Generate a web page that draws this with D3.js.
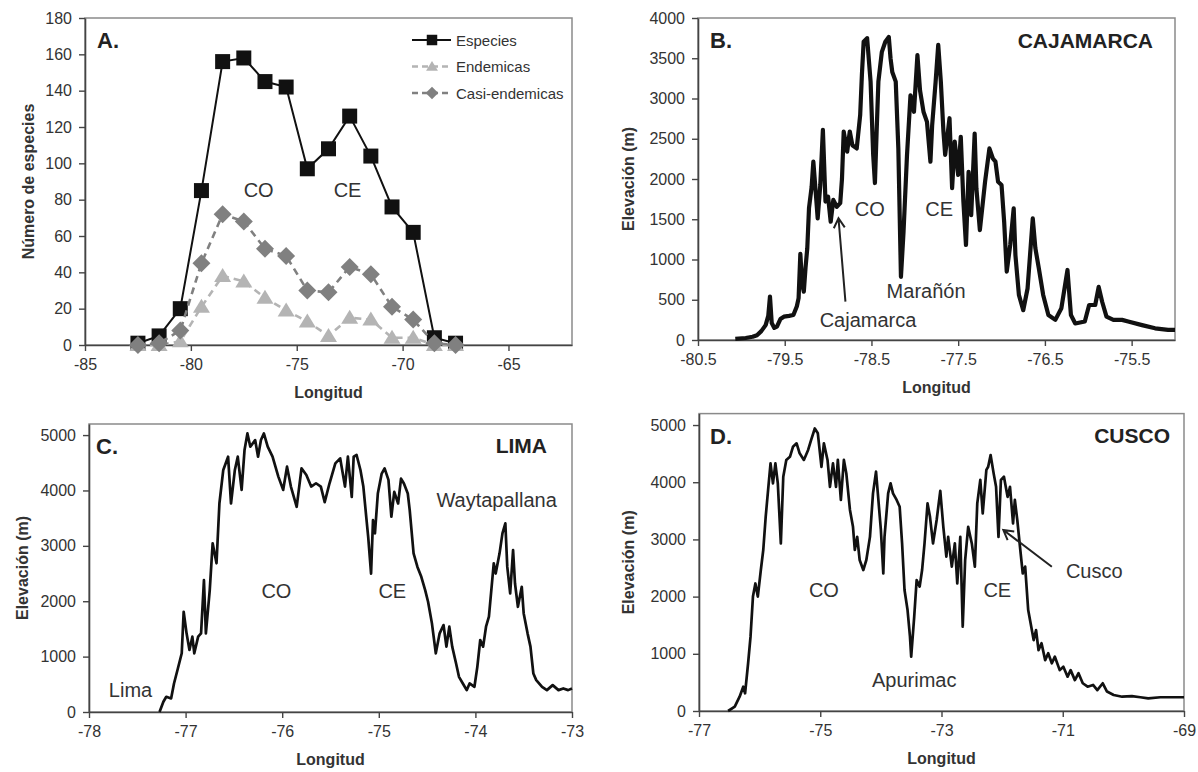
<!DOCTYPE html>
<meta charset="utf-8">
<script src="https://d3js.org/d3.v7.min.js"></script>
<style>
  body { margin: 0; background: #fff; }
  text { font-family: "Liberation Sans", Arial, sans-serif; }
</style>
<div id="page"></div>
<script>

  // ---- Panel A: species counts per 1-degree longitude band ----
  var lonA = [-82.5, -81.5, -80.5, -79.5, -78.5, -77.5, -76.5, -75.5, -74.5, -73.5, -72.5, -71.5, -70.5, -69.5, -68.5, -67.5];
  var especies = [1, 5, 20, 85, 156, 158, 145, 142, 97, 108, 126, 104, 76, 62, 4, 1];
  var endemicas = [0, 0, 2, 21, 38, 35, 26, 19, 13, 5, 15, 14, 4, 4, 0, 0];
  var casiEndemicas = [0, 1, 8, 45, 72, 68, 53, 49, 30, 29, 43, 39, 21, 14, 1, 0];
  var seriesNames = ["Especies", "Endemicas", "Casi-endemicas"];

  // ---- Panel B: Cajamarca elevation profile ----
  var cajLon = [-80.07, -79.95, -79.87, -79.82, -79.77, -79.72, -79.69, -79.67, -79.65, -79.62, -79.59, -79.55, -79.51, -79.45, -79.40, -79.36, -79.34, -79.32, -79.30, -79.28, -79.26, -79.24, -79.22, -79.19, -79.17, -79.14, -79.12, -79.09, -79.06, -79.03, -79.00, -78.97, -78.94, -78.90, -78.86, -78.84, -78.82, -78.78, -78.75, -78.72, -78.67, -78.63, -78.61, -78.59, -78.55, -78.51, -78.48, -78.46, -78.44, -78.42, -78.38, -78.34, -78.30, -78.28, -78.26, -78.22, -78.19, -78.16, -78.13, -78.09, -78.05, -78.01, -77.97, -77.94, -77.90, -77.86, -77.82, -77.80, -77.76, -77.73, -77.70, -77.67, -77.65, -77.60, -77.57, -77.54, -77.50, -77.47, -77.44, -77.41, -77.38, -77.35, -77.31, -77.29, -77.25, -77.19, -77.14, -77.10, -77.07, -77.04, -77.00, -76.97, -76.94, -76.90, -76.86, -76.84, -76.80, -76.75, -76.70, -76.64, -76.61, -76.57, -76.52, -76.46, -76.38, -76.31, -76.24, -76.20, -76.15, -76.04, -75.99, -75.92, -75.88, -75.84, -75.79, -75.71, -75.61, -75.54, -75.38, -75.23, -75.08, -75.00];
  var cajElev = [15, 25, 40, 60, 110, 185, 300, 540, 210, 150, 165, 260, 290, 300, 310, 420, 520, 1070, 700, 600, 900, 1140, 1640, 1900, 2215, 1800, 1510, 1925, 2610, 1720, 1780, 1470, 1740, 1655, 1700, 2000, 2590, 2340, 2590, 2420, 2380, 2795, 3300, 3705, 3750, 3210, 2300, 1950, 2600, 3210, 3580, 3705, 3765, 3500, 3330, 3210, 2380, 785, 1345, 2300, 3040, 2835, 3540, 3100, 2835, 2710, 2215, 2670, 3210, 3665, 3210, 2590, 2300, 2755, 1885, 2465, 2050, 2525, 1720, 1180, 2090, 1550, 2565, 1885, 1365, 1965, 2380, 2255, 2215, 1965, 1925, 1470, 850, 1180, 1635, 1055, 560, 370, 640, 1510, 1140, 890, 560, 310, 250, 395, 870, 310, 205, 230, 435, 435, 660, 475, 290, 250, 250, 230, 185, 145, 125, 125];

  // ---- Panel C: Lima elevation profile ----
  var limaLon = [-77.27, -77.23, -77.20, -77.15, -77.12, -77.08, -77.04, -77.02, -76.99, -76.96, -76.93, -76.91, -76.87, -76.84, -76.81, -76.79, -76.75, -76.72, -76.68, -76.65, -76.61, -76.56, -76.53, -76.49, -76.46, -76.42, -76.39, -76.36, -76.33, -76.28, -76.25, -76.22, -76.19, -76.15, -76.10, -76.04, -75.99, -75.95, -75.91, -75.85, -75.80, -75.75, -75.70, -75.65, -75.60, -75.56, -75.51, -75.45, -75.40, -75.35, -75.32, -75.28, -75.26, -75.23, -75.19, -75.16, -75.13, -75.11, -75.08, -75.06, -75.04, -75.01, -74.97, -74.94, -74.90, -74.87, -74.84, -74.80, -74.77, -74.74, -74.70, -74.68, -74.64, -74.60, -74.56, -74.52, -74.49, -74.45, -74.41, -74.37, -74.33, -74.30, -74.27, -74.24, -74.20, -74.17, -74.13, -74.09, -74.06, -74.01, -73.98, -73.95, -73.92, -73.89, -73.86, -73.81, -73.79, -73.75, -73.72, -73.69, -73.67, -73.64, -73.61, -73.59, -73.56, -73.52, -73.50, -73.46, -73.43, -73.40, -73.37, -73.31, -73.26, -73.20, -73.14, -73.09, -73.04, -73.00];
  var limaElev = [0, 185, 275, 245, 515, 785, 1060, 1810, 1420, 1120, 1360, 1060, 1360, 1420, 2380, 1420, 2200, 3045, 2685, 3765, 4370, 4610, 3765, 4370, 4610, 4010, 4730, 5030, 4790, 4910, 4610, 4910, 5030, 4790, 4610, 4250, 4010, 4430, 4070, 3705, 4400, 4280, 4070, 4130, 4070, 3790, 4130, 4490, 4580, 4070, 4610, 3885, 4610, 4640, 4370, 4070, 3525, 3165, 2500, 3465, 3225, 3945, 4305, 4400, 4190, 3525, 3975, 3765, 4215, 4125, 3945, 3645, 2865, 2620, 2440, 2200, 1990, 1600, 1060, 1420, 1570, 1180, 1540, 1180, 875, 635, 515, 395, 515, 455, 815, 1300, 1180, 1540, 1720, 2685, 2500, 2865, 3225, 3405, 2620, 2140, 2925, 2320, 1900, 2260, 1780, 1420, 1180, 695, 575, 455, 395, 485, 395, 425, 395, 425];

  // ---- Panel D: Cusco elevation profile ----
  var cuscoLon = [-76.52, -76.41, -76.33, -76.27, -76.24, -76.19, -76.15, -76.11, -76.07, -76.03, -75.98, -75.94, -75.90, -75.86, -75.82, -75.78, -75.74, -75.70, -75.65, -75.61, -75.56, -75.50, -75.45, -75.39, -75.34, -75.27, -75.20, -75.15, -75.09, -75.04, -74.98, -74.94, -74.88, -74.84, -74.79, -74.74, -74.71, -74.66, -74.61, -74.57, -74.51, -74.46, -74.43, -74.39, -74.35, -74.29, -74.24, -74.18, -74.13, -74.08, -74.05, -74.00, -73.96, -73.94, -73.88, -73.84, -73.80, -73.74, -73.69, -73.65, -73.61, -73.56, -73.52, -73.50, -73.45, -73.41, -73.36, -73.32, -73.28, -73.23, -73.19, -73.14, -73.08, -73.02, -72.97, -72.92, -72.89, -72.83, -72.78, -72.74, -72.69, -72.65, -72.61, -72.56, -72.50, -72.45, -72.41, -72.36, -72.32, -72.26, -72.23, -72.19, -72.14, -72.10, -72.06, -72.02, -71.97, -71.91, -71.87, -71.82, -71.79, -71.75, -71.70, -71.66, -71.62, -71.57, -71.53, -71.48, -71.44, -71.40, -71.35, -71.29, -71.24, -71.18, -71.13, -71.05, -70.99, -70.92, -70.87, -70.80, -70.74, -70.67, -70.59, -70.50, -70.43, -70.34, -70.27, -70.16, -70.02, -69.86, -69.72, -69.59, -69.39, -69.17, -69.00];
  var cuscoElev = [0, 75, 250, 425, 310, 835, 1300, 2000, 2230, 2000, 2465, 2815, 3395, 3865, 4330, 3980, 4330, 3980, 2930, 4095, 4390, 4445, 4620, 4680, 4505, 4390, 4565, 4740, 4940, 4855, 4270, 4680, 4390, 3920, 4330, 3920, 4390, 3690, 4390, 4155, 3515, 3220, 2815, 3045, 2640, 2465, 2640, 3045, 3805, 4185, 3805, 3165, 2405, 3045, 3805, 3980, 3805, 3690, 3570, 2930, 2115, 1765, 1300, 950, 1650, 2290, 2175, 2465, 2930, 3630, 3395, 2930, 3340, 3850, 3220, 2700, 3045, 2525, 2930, 2230, 3045, 1475, 2640, 3220, 2930, 2525, 3630, 4040, 3455, 4215, 4270, 4475, 4155, 3920, 3045, 4040, 4095, 3745, 3920, 3280, 3690, 3340, 2815, 2405, 2525, 1765, 1535, 1240, 1415, 1065, 1185, 890, 1010, 835, 950, 715, 775, 600, 715, 540, 660, 485, 425, 455, 365, 485, 340, 280, 250, 260, 240, 220, 240, 240, 240];

  // Axis ticks
  var ticksAx = [-85, -80, -75, -70, -65], ticksAy = d3.range(0, 181, 20);
  var ticksBx = [-80.5, -79.5, -78.5, -77.5, -76.5, -75.5], ticksBy = d3.range(0, 4001, 500);
  var ticksCx = [-78, -77, -76, -75, -74, -73], ticksCy = d3.range(0, 5001, 1000);
  var ticksDx = [-77, -75, -73, -71, -69], ticksDy = d3.range(0, 5001, 1000);

  var svg = d3.select("#page").append("svg")
    .attr("width", 1198).attr("height", 772);

  var ink = "#333";

  // draws frame + axes, returns scales
  function panel(p) {
    var x = d3.scaleLinear().domain(p.xd).range([p.l, p.r]);
    var y = d3.scaleLinear().domain(p.yd).range([p.b, p.t]);
    svg.append("rect")
      .attr("x", p.l).attr("y", p.t)
      .attr("width", p.r - p.l).attr("height", p.b - p.t)
      .attr("fill", "none").attr("stroke", "#8a8a8a").attr("stroke-width", 1.5);

    var gx = svg.append("g").attr("transform", "translate(0," + p.b + ")")
      .call(d3.axisBottom(x).tickValues(p.xt).tickSize(6).tickSizeOuter(0).tickPadding(8).tickFormat(String));
    var gy = svg.append("g").attr("transform", "translate(" + p.l + ",0)")
      .call(d3.axisLeft(y).tickValues(p.yt).tickSize(6).tickSizeOuter(0).tickPadding(7).tickFormat(String));
    [gx, gy].forEach(function (g) {
      g.select(".domain").attr("stroke", "#444").attr("stroke-width", 1.6);
      g.selectAll(".tick line").attr("stroke", "#444").attr("stroke-width", 1.4);
      g.selectAll(".tick text").attr("font-size", "16px").attr("fill", ink)
        .attr("font-family", "'Liberation Sans', Arial, sans-serif");
    });

    svg.append("text").attr("x", (p.l + p.r) / 2).attr("y", p.b + 53)
      .attr("text-anchor", "middle").attr("font-size", "16px").attr("font-weight", "bold")
      .attr("fill", ink).text("Longitud");
    svg.append("text")
      .attr("transform", "translate(" + p.yTitleX + "," + (p.t + p.b) / 2 + ")rotate(-90)")
      .attr("dy", "0.35em").attr("text-anchor", "middle")
      .attr("font-size", "16px").attr("font-weight", "bold").attr("fill", ink)
      .text(p.yTitle);

    svg.append("text").attr("x", p.l + p.letterDx).attr("y", p.t + 30)
      .attr("font-size", "22px").attr("font-weight", "bold").attr("fill", "#222")
      .text(p.letter);
    if (p.region) {
      svg.append("text").attr("x", p.r - p.regionDx).attr("y", p.t + p.regionDy)
        .attr("text-anchor", "end").attr("font-size", "21px").attr("font-weight", "bold")
        .attr("fill", "#222").text(p.region);
    }
    return { x: x, y: y };
  }

  function note(s, lon, v, txt) {
    svg.append("text").attr("x", s.x(lon)).attr("y", s.y(v))
      .attr("text-anchor", "middle").attr("font-size", "20px").attr("fill", ink).text(txt);
  }

  function arrow(s, lon0, v0, lon1, v1) {
    var x0 = s.x(lon0), y0 = s.y(v0), x1 = s.x(lon1), y1 = s.y(v1);
    var a = Math.atan2(y1 - y0, x1 - x0), L = 11, w = Math.PI / 6;
    svg.append("path")
      .attr("d", "M" + x0 + "," + y0 + "L" + x1 + "," + y1 +
        "M" + (x1 - L * Math.cos(a - w)) + "," + (y1 - L * Math.sin(a - w)) +
        "L" + x1 + "," + y1 +
        "L" + (x1 - L * Math.cos(a + w)) + "," + (y1 - L * Math.sin(a + w)))
      .attr("fill", "none").attr("stroke", "#222").attr("stroke-width", 2);
  }

  function profile(s, lons, elevs, w) {
    var line = d3.line().x(function (d) { return s.x(d[0]); }).y(function (d) { return s.y(d[1]); });
    svg.append("path").datum(d3.zip(lons, elevs))
      .attr("d", line).attr("fill", "none").attr("stroke", "#111")
      .attr("stroke-width", w).attr("stroke-linejoin", "round");
  }

  // ---------- A ----------
  var sA = panel({ l: 85, r: 572, t: 18, b: 345, xd: [-85, -62], yd: [0, 180], xt: ticksAx, yt: ticksAy,
    yTitle: "Número de especies", yTitleX: 28, letter: "A.", letterDx: 12 });

  var squarePath = "M-7.5,-7.5H7.5V7.5H-7.5Z";
  var triPath = "M0,-8L8.5,6L-8.5,6Z";
  var diaPath = "M0,-9L9,0L0,9L-9,0Z";
  var styles = [
    { vals: especies, color: "#111", dash: null, shape: squarePath, w: 2 },
    { vals: endemicas, color: "#b4b4b4", dash: "7,5", shape: triPath, w: 2.6 },
    { vals: casiEndemicas, color: "#808080", dash: "7,5", shape: diaPath, w: 2.6 }
  ];
  var lineA = d3.line().x(function (d) { return sA.x(d[0]); }).y(function (d) { return sA.y(d[1]); });
  styles.forEach(function (st) {
    var pts = d3.zip(lonA, st.vals);
    svg.append("path").datum(pts).attr("d", lineA).attr("fill", "none")
      .attr("stroke", st.color).attr("stroke-width", st.w).attr("stroke-dasharray", st.dash);
    svg.selectAll(null).data(pts).enter().append("path")
      .attr("d", st.shape)
      .attr("transform", function (d) { return "translate(" + sA.x(d[0]) + "," + sA.y(d[1]) + ")"; })
      .attr("fill", st.color);
  });

  // legend
  styles.forEach(function (st, i) {
    var ly = 40 + i * 26.5;
    svg.append("line").attr("x1", 412).attr("x2", 451).attr("y1", ly).attr("y2", ly)
      .attr("stroke", st.color).attr("stroke-width", st.w).attr("stroke-dasharray", st.dash ? "6,4" : null);
    svg.append("path").attr("d", st.shape).attr("transform", "translate(432," + ly + ")scale(0.7)")
      .attr("fill", st.color);
    svg.append("text").attr("x", 456).attr("y", ly + 5.5).attr("font-size", "15px")
      .attr("fill", ink).text(seriesNames[i]);
  });

  note(sA, -76.8, 81.5, "CO");
  note(sA, -72.6, 81.5, "CE");

  // ---------- B ----------
  var sB = panel({ l: 698, r: 1175, t: 18, b: 340, xd: [-80.5, -75], yd: [0, 4000], xt: ticksBx, yt: ticksBy,
    yTitle: "Elevación (m)", yTitleX: 628, letter: "B.", letterDx: 12, region: "CAJAMARCA", regionDx: 22, regionDy: 30 });
  profile(sB, cajLon, cajElev, 4.2);
  note(sB, -78.52, 1540, "CO");
  note(sB, -77.72, 1540, "CE");
  note(sB, -77.87, 520, "Marañón");
  note(sB, -78.54, 160, "Cajamarca");
  arrow(sB, -78.80, 476, -78.88, 1512);

  // ---------- C ----------
  var sC = panel({ l: 89, r: 572, t: 424, b: 712, xd: [-78, -73], yd: [0, 5200], xt: ticksCx, yt: ticksCy,
    yTitle: "Elevación (m)", yTitleX: 22, letter: "C.", letterDx: 7, region: "LIMA", regionDx: 25, regionDy: 29 });
  profile(sC, limaLon, limaElev, 2.7);
  note(sC, -76.06, 2058, "CO");
  note(sC, -74.86, 2058, "CE");
  note(sC, -73.78, 3700, "Waytapallana");
  note(sC, -77.57, 270, "Lima");

  // ---------- D ----------
  var sD = panel({ l: 699, r: 1184, t: 413.6, b: 711, xd: [-77, -69], yd: [0, 5200], xt: ticksDx, yt: ticksDy,
    yTitle: "Elevación (m)", yTitleX: 628, letter: "D.", letterDx: 11, region: "CUSCO", regionDx: 14, regionDy: 29 });
  profile(sD, cuscoLon, cuscoElev, 2.7);
  note(sD, -74.94, 1993, "CO");
  note(sD, -72.08, 1993, "CE");
  note(sD, -73.45, 420, "Apurimac");
  note(sD, -70.48, 2325, "Cusco");
  arrow(sD, -71.18, 2523, -71.98, 3164);

</script>
